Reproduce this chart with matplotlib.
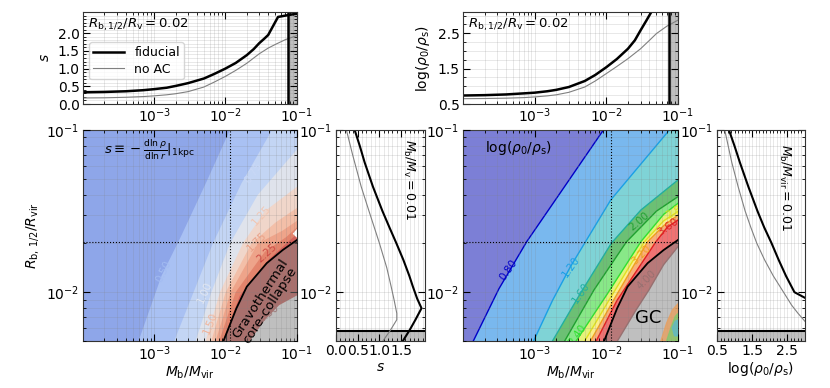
import numpy as np
import matplotlib
matplotlib.use("Agg")
import matplotlib.pyplot as plt
from matplotlib.ticker import MultipleLocator, NullFormatter, LogLocator

# ---- top panels: profiles at R_b,1/2/R_vir = 0.02 ----
m_top = [1e-4, 2e-4, 4e-4, 7e-4, 1e-3, 1.5e-3, 2e-3, 3e-3, 5e-3, 7e-3, 1e-2,
         1.4e-2, 2e-2, 2.5e-2, 3e-2, 3.5e-2, 4e-2, 5.5e-2, 8e-2, 1e-1]
s_fid_top = [0.33, 0.34, 0.36, 0.39, 0.42, 0.46, 0.51, 0.59, 0.72, 0.85, 1.00,
             1.16, 1.38, 1.55, 1.72, 1.84, 1.95, 2.46, 2.52, 2.55]
m_top_noac = [1e-4, 2e-4, 4e-4, 7e-4, 1e-3, 1.5e-3, 2e-3, 3e-3, 5e-3, 7e-3, 1e-2,
              1.4e-2, 2e-2, 3e-2, 4e-2, 5e-2, 7e-2, 1e-1]
s_noac_top = [0.17, 0.175, 0.19, 0.21, 0.23, 0.26, 0.29, 0.35, 0.48, 0.62, 0.78,
              0.95, 1.15, 1.42, 1.58, 1.68, 1.82, 1.93]

m_top_rho = [1e-4, 2e-4, 4e-4, 7e-4, 1e-3, 1.5e-3, 2e-3, 3e-3, 5e-3, 7e-3, 1e-2,
             1.4e-2, 2e-2, 2.5e-2, 3e-2, 3.6e-2, 4.3e-2]
rho_fid_top = [0.74, 0.75, 0.77, 0.80, 0.82, 0.86, 0.90, 0.98, 1.15, 1.32, 1.54,
               1.77, 2.06, 2.30, 2.58, 2.85, 3.12]
rho_noac_top = [0.65, 0.655, 0.665, 0.68, 0.70, 0.73, 0.76, 0.83, 0.98, 1.15, 1.36,
                1.56, 1.78, 2.06, 2.30, 2.49, 2.70, 2.87]

# ---- side panels: profiles at M_b/M_vir = 0.01 (log10 R) ----
logr_side_fid = [-1.0, -1.1, -1.2, -1.349, -1.5, -1.6, -1.698, -1.8, -1.9, -1.965,
                 -2.04, -2.099, -2.17, -2.232, -2.301]
s_fid_side = [0.43, 0.55, 0.66, 0.85, 1.07, 1.23, 1.39, 1.55, 1.69, 1.77,
              1.87, 1.97, 1.83, 1.70, 1.54]
logr_side_noac = [-1.0, -1.15, -1.349, -1.5, -1.698, -1.85, -1.965, -2.05, -2.13,
                  -2.17, -2.24, -2.301]
s_noac_side = [0.24, 0.38, 0.58, 0.76, 1.00, 1.17, 1.27, 1.34, 1.40, 1.40, 1.24, 1.08]

logr_rho_fid = [-1.0, -1.1, -1.2, -1.349, -1.5, -1.6, -1.698, -1.8, -1.9, -2.0, -2.035]
rho_fid_side = [0.84, 1.00, 1.15, 1.39, 1.65, 1.84, 2.05, 2.25, 2.46, 2.70, 3.0]
logr_rho_noac = [-1.0, -1.1, -1.2, -1.349, -1.5, -1.6, -1.698, -1.8, -1.9, -2.0,
                 -2.08, -2.13, -2.18]
rho_noac_side = [0.72, 0.82, 0.92, 1.10, 1.30, 1.46, 1.63, 1.85, 2.10, 2.39,
                 2.62, 2.80, 3.0]

# ---- contour maps: each contour as (log10 M, log10 R) points ----
s_contours = [
    ([-3.22, -2.90, -2.62, -2.28, -1.94], [-2.3, -1.90, -1.65, -1.33, -1.0]),
    ([-2.72, -2.45, -2.18, -1.78, -1.35], [-2.3, -2.0, -1.70, -1.33, -1.0]),
    ([-2.42, -2.20, -1.94, -1.55, -1.0], [-2.3, -2.0, -1.70, -1.40, -1.12]),
    ([-2.28, -2.08, -1.76, -1.45, -1.0], [-2.3, -2.0, -1.70, -1.50, -1.35]),
    ([-2.20, -2.00, -1.64, -1.30, -1.0], [-2.3, -2.0, -1.70, -1.57, -1.48]),
    ([-2.14, -1.93, -1.55, -1.20, -1.0], [-2.3, -2.0, -1.70, -1.62, -1.56]),
    ([-2.09, -1.86, -1.45, -1.15, -1.0], [-2.3, -2.0, -1.75, -1.66, -1.60]),
    ([-2.04, -1.80, -1.40, -1.10, -1.0], [-2.3, -2.02, -1.80, -1.68, -1.64]),
    ([-1.66, -1.45, -1.25, -1.0], [-2.3, -2.17, -2.08, -2.02]),
]
s_band_colors = ["#a9c1f3", "#c3d5f4", "#dfe3ec", "#f0d6ca", "#f3bfa8",
                 "#eea48a", "#e3846c", "#d4605a", "#ffffff"]
s_base_color = "#8ea6e9"
# label: text, log M, log R, angle, colour
s_labels = [("0.50", -2.874, -1.873, 64, "#a3bcf2"),
            ("0.75", -1.611, -1.267, 55, "#c9d8f6"),
            ("1.00", -2.30, -2.0, 66, "#e2e7f1"),
            ("1.25", -1.494, -1.524, 48, "#f2c6b2"),
            ("1.50", -2.21, -2.19, 68, "#f1b59c"),
            ("1.75", -1.564, -1.688, 45, "#eaa086"),
            ("2.25", -1.424, -1.76, 42, "#cc4a44"),
            ("2.50", -1.40, -2.13, 38, "#b87070")]

rho_contours = [
    ([-3.855, -3.50, -3.11, -2.60, -2.041], [-2.3, -1.98, -1.688, -1.36, -1.0]),
    ([-3.014, -2.75, -2.50, -1.938, -1.12], [-2.3, -2.05, -1.842, -1.431, -1.0]),
    ([-2.75, -2.36, -1.93, -1.517, -1.0], [-2.3, -2.006, -1.698, -1.493, -1.308]),
    ([-2.58, -2.172, -1.72, -1.30, -1.0], [-2.3, -1.986, -1.69, -1.50, -1.411]),
    ([-2.42, -2.0, -1.517, -1.2, -1.0], [-2.3, -2.02, -1.688, -1.52, -1.452]),
    ([-2.30, -1.95, -1.47, -1.2, -1.0], [-2.3, -2.04, -1.69, -1.56, -1.503]),
    ([-2.22, -1.90, -1.423, -1.2, -1.0], [-2.3, -2.05, -1.688, -1.59, -1.524]),
    ([-2.14, -1.85, -1.307, -1.15, -1.0], [-2.3, -2.05, -1.688, -1.60, -1.555]),
    ([-1.844, -1.60, -1.405, -1.2, -1.0], [-2.3, -2.12, -1.986, -1.83, -1.719]),
]
rho_band_colors = ["#79b8ee", "#7fd3d6", "#6cc074", "#88e888", "#e6f27a",
                   "#fbee8c", "#f9b07a", "#f07272", "#ffffff"]
rho_line_colors = ["#0000c8", "#1aa0e6", "#20b0a0", "#20a030", "#30e030",
                   "#e0e020", "#f0a020", "#e02020", "#b06060"]
rho_base_color = "#7c7fd6"
rho_labels = [("0.80", -3.365, -1.863, 55), ("1.20", -2.499, -1.842, 55),
              ("1.60", -2.36, -2.006, 55), ("2.00", -1.54, -1.565, 40),
              ("2.40", -2.40, -2.26, 55), ("2.80", -1.02, -1.50, 30),
              ("3.20", -1.517, -1.77, 45), ("3.60", -1.143, -1.60, 35),
              ("4.00", -1.447, -1.924, 45)]

# messy contours around the GC corner (log M, log R outlines)
gc_blobs = [
    ([-1.24, -1.16, -1.08, -1.0, -1.0], [-2.3, -2.19, -2.11, -2.07, -2.3], "#e8a060"),
    ([-1.16, -1.10, -1.04, -1.0, -1.0, -1.10], [-2.3, -2.22, -2.15, -2.13, -2.3, -2.3], "#80c870"),
    ([-1.08, -1.04, -1.0, -1.0, -1.05], [-2.22, -2.18, -2.17, -2.27, -2.27], "#60b8c8"),
]

# gravothermal core-collapse boundary
collapse_logm = [-2.03, -1.85, -1.704, -1.424, -1.2, -1.0]
collapse_logr = [-2.3, -2.1, -1.966, -1.821, -1.74, -1.678]

M_CUT = 0.075       # vertical band in the top panels
R_CUT = 0.0058      # horizontal band in the side panels
M_SEL, R_SEL = 0.0115, 0.0205

W, H = 830, 388
fig = plt.figure(figsize=(W / 100, H / 100), dpi=100)


def add_axes(x0, x1, y0, y1):
    return fig.add_axes([x0 / W, 1 - y1 / H, (x1 - x0) / W, (y1 - y0) / H])


ax_ts = add_axes(83, 296.5, 12, 104)
ax_tr = add_axes(463, 678, 12, 104)
ax_s = add_axes(83, 297, 130, 341)
ax_ss = add_axes(336, 425, 130, 341)
ax_r = add_axes(463, 678, 130, 341)
ax_rs = add_axes(717, 805, 130, 341)


def style(ax):
    ax.tick_params(which="both", direction="in", top=True, right=True,
                   labelsize=10, pad=2.5)
    ax.tick_params(which="major", length=5, width=0.8)
    ax.tick_params(which="minor", length=2.5, width=0.6)
    ax.grid(which="both", color="gray", alpha=0.25, lw=0.5)
    for sp in ax.spines.values():
        sp.set_color("#333333")


def region_right_of(lm, lr):
    m = list(10 ** np.array(lm))
    r = list(10 ** np.array(lr))
    m += [m[-1], 0.3, 0.3, m[0]]
    r += [0.3, 0.3, 1e-3, 1e-3]
    return m, r


def setup_map(ax):
    ax.set_xscale("log")
    ax.set_yscale("log")
    ax.set_xlim(1e-4, 1e-1)
    ax.set_ylim(5e-3, 1e-1)
    ax.set_xticks([1e-3, 1e-2, 1e-1])
    ax.set_yticks([1e-2, 1e-1])
    ax.xaxis.set_minor_locator(LogLocator(subs=np.arange(2, 10)))
    ax.yaxis.set_minor_locator(LogLocator(subs=np.arange(2, 10)))
    ax.xaxis.set_minor_formatter(NullFormatter())
    ax.yaxis.set_minor_formatter(NullFormatter())
    ax.axvline(M_SEL, color="k", ls=":", lw=0.8, zorder=6)
    ax.axhline(R_SEL, color="k", ls=":", lw=0.8, zorder=6)
    ax.set_xlabel(r"$M_{\rm b}/M_{\rm vir}$", fontsize=10, labelpad=1)
    style(ax)
    ax.set_axisbelow(False)


def collapse_overlay(ax):
    m, r = region_right_of(collapse_logm, collapse_logr)
    ax.fill(m, r, color="gray", alpha=0.5, lw=0, zorder=4)
    ax.plot(10 ** np.array(collapse_logm), 10 ** np.array(collapse_logr),
            color="k", lw=1.3, zorder=5)


# ---- s map ----
ax_s.set_facecolor(s_base_color)
for (lm, lr), c in zip(s_contours, s_band_colors):
    m, r = region_right_of(lm, lr)
    ax_s.fill(m, r, color=c, lw=0, zorder=1)
# small unfilled notch at the right edge
ax_s.fill([0.1, 10 ** -1.06, 0.1], [10 ** -1.61, 10 ** -1.64, 10 ** -1.665],
          color="white", lw=0, zorder=2)
for txt, lm, lr, ang, c in s_labels:
    ax_s.text(10 ** lm, 10 ** lr, txt, rotation=ang, color=c, fontsize=7.5,
              ha="center", va="center", zorder=3, clip_on=True)
collapse_overlay(ax_s)
setup_map(ax_s)
ax_s.set_ylabel(r"$R_{\rm b,\,1/2}/R_{\rm vir}$", fontsize=10)
ax_s.text(0.10, 0.905, r"$s \equiv -\frac{{\rm d}\ln\rho}{{\rm d}\ln r}|_{\rm 1kpc}$",
          transform=ax_s.transAxes, fontsize=9.5, va="center", zorder=7)
ax_s.text(10 ** -1.45, 10 ** -2.06, "Gravothermal\ncore-collapse", rotation=57,
          fontsize=9.5, ha="center", va="center", linespacing=0.9, zorder=7)

# ---- log(rho0/rhos) map ----
ax_r.set_facecolor(rho_base_color)
for (lm, lr), c in zip(rho_contours, rho_band_colors):
    m, r = region_right_of(lm, lr)
    ax_r.fill(m, r, color=c, lw=0, zorder=1)
for (lm, lr), c in zip(rho_contours, rho_line_colors):
    ax_r.plot(10 ** np.array(lm), 10 ** np.array(lr), color=c, lw=1.0, zorder=2)
for (txt, lm, lr, ang), c in zip(rho_labels, rho_line_colors):
    ax_r.text(10 ** lm, 10 ** lr, txt, rotation=ang, color=c, fontsize=7.5,
              ha="center", va="center", zorder=3, clip_on=True)
collapse_overlay(ax_r)
for lm, lr, c in gc_blobs:
    ax_r.fill(10 ** np.array(lm), 10 ** np.array(lr), color=c, alpha=0.8, lw=0.8,
              ec=c, zorder=4.5)
setup_map(ax_r)
ax_r.text(0.10, 0.915, r"log$(\rho_0/\rho_{\rm s})$", transform=ax_r.transAxes,
          fontsize=10, va="center", zorder=7)
ax_r.text(10 ** -1.42, 10 ** -2.16, "GC", fontsize=13, ha="center", va="center", zorder=7)

# ---- top panels ----
for ax in (ax_ts, ax_tr):
    ax.set_xscale("log")
    ax.set_xlim(1e-4, 1e-1)
    ax.set_xticks([1e-3, 1e-2, 1e-1])
    ax.xaxis.set_minor_locator(LogLocator(subs=np.arange(2, 10)))
    ax.xaxis.set_minor_formatter(NullFormatter())
    style(ax)
    ax.tick_params(axis="x", pad=1.5)

ax_ts.plot(m_top, s_fid_top, color="k", lw=1.8, label="fiducial")
ax_ts.plot(m_top_noac, s_noac_top, color="gray", lw=0.8, label="no AC")
ax_ts.axvspan(M_CUT, 0.1, color="gray", alpha=0.5, lw=0)
ax_ts.axvline(M_CUT, color="k", lw=1.8)
ax_ts.set_ylim(0, 2.6)
ax_ts.set_yticks([0, 0.5, 1.0, 1.5, 2.0])
ax_ts.yaxis.set_minor_locator(MultipleLocator(0.1))
ax_ts.set_ylabel(r"$s$", fontsize=10)
ax_ts.text(0.025, 0.87, r"$R_{\rm b,1/2}/R_{\rm v} = 0.02$", transform=ax_ts.transAxes,
           fontsize=9.5, va="center")
ax_ts.legend(loc="upper left", bbox_to_anchor=(0.0, 0.74), fontsize=9,
             handlelength=2.5, borderpad=0.3, labelspacing=0.3)

ax_tr.plot(m_top_rho, rho_fid_top, color="k", lw=1.8)
ax_tr.plot(m_top_noac, rho_noac_top, color="gray", lw=0.8)
ax_tr.axvspan(M_CUT, 0.1, color="gray", alpha=0.5, lw=0)
ax_tr.axvline(M_CUT, color="k", lw=1.8)
ax_tr.set_ylim(0.5, 3.1)
ax_tr.set_yticks([0.5, 1.5, 2.5])
ax_tr.yaxis.set_minor_locator(MultipleLocator(0.25))
ax_tr.set_ylabel(r"log$(\rho_0/\rho_{\rm s})$", fontsize=10)
ax_tr.text(0.025, 0.87, r"$R_{\rm b,1/2}/R_{\rm v} = 0.02$", transform=ax_tr.transAxes,
           fontsize=9.5, va="center")

# ---- side panels ----
for ax in (ax_ss, ax_rs):
    ax.set_yscale("log")
    ax.set_ylim(5e-3, 1e-1)
    ax.set_yticks([1e-2, 1e-1])
    ax.yaxis.set_minor_locator(LogLocator(subs=np.arange(2, 10)))
    ax.yaxis.set_minor_formatter(NullFormatter())
    ax.axhspan(5e-3, R_CUT, color="gray", alpha=0.5, lw=0)
    ax.axhline(R_CUT, color="k", lw=1.5)
    style(ax)

ax_ss.plot(s_fid_side, 10 ** np.array(logr_side_fid), color="k", lw=1.5)
ax_ss.plot(s_noac_side, 10 ** np.array(logr_side_noac), color="gray", lw=0.8)
ax_ss.set_xlim(0, 2.05)
ax_ss.set_xticks([0, 0.5, 1.0, 1.5])
ax_ss.xaxis.set_minor_locator(MultipleLocator(0.1))
ax_ss.set_xlabel(r"$s$", fontsize=10, labelpad=1)
ax_ss.text(0.81, 0.765, r"$M_{\rm b}/M_{\rm v} = 0.01$", rotation=-90,
           transform=ax_ss.transAxes, fontsize=9, ha="center", va="center")

ax_rs.plot(rho_fid_side, 10 ** np.array(logr_rho_fid), color="k", lw=1.5)
ax_rs.plot(rho_noac_side, 10 ** np.array(logr_rho_noac), color="gray", lw=0.8)
ax_rs.set_xlim(0.5, 3.0)
ax_rs.set_xticks([0.5, 1.5, 2.5])
ax_rs.xaxis.set_minor_locator(MultipleLocator(0.1))
ax_rs.set_xlabel(r"log$(\rho_0/\rho_{\rm s})$", fontsize=10, labelpad=1)
ax_rs.text(0.77, 0.725, r"$M_{\rm b}/M_{\rm vir} = 0.01$", rotation=-90,
           transform=ax_rs.transAxes, fontsize=9, ha="center", va="center")

fig.savefig("out.png", dpi=100)
